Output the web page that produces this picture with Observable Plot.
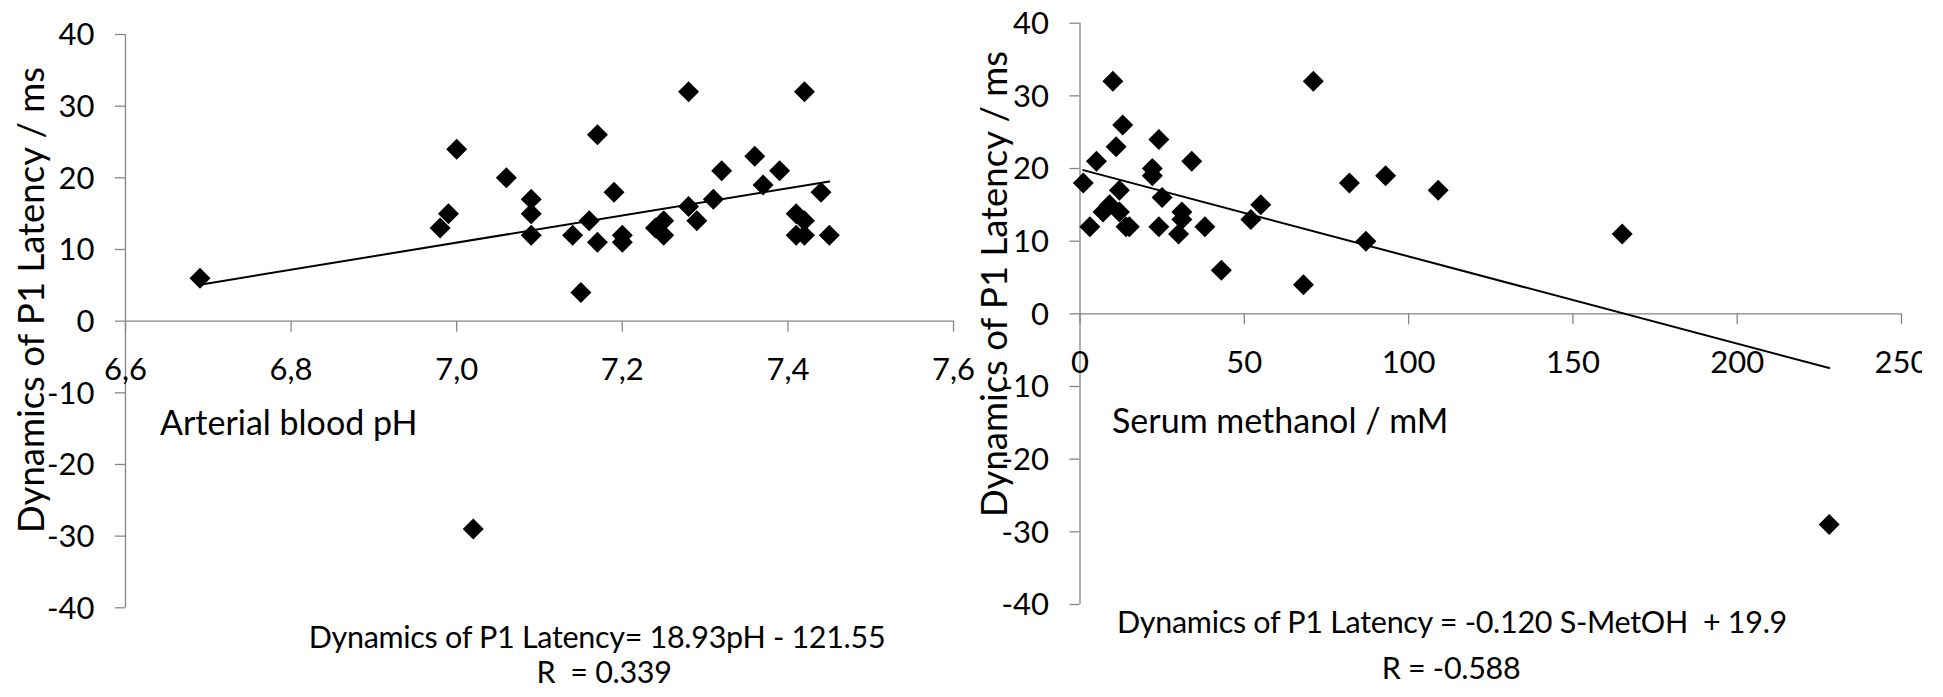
<!DOCTYPE html>
<html><head><meta charset="utf-8">
<script src="https://cdn.jsdelivr.net/npm/d3@7"></script>
<script src="https://cdn.jsdelivr.net/npm/@observablehq/plot@0.6"></script>
<style>
html,body{margin:0;padding:0;background:#fff;}
#root{position:relative;width:1943px;height:697px;overflow:hidden;font-family:Lato,"Open Sans",sans-serif;color:#000;background:#fff;}
.panel{position:absolute;top:0;height:697px;}
.lbl{position:absolute;white-space:pre;line-height:1;font-family:Lato,"Open Sans",sans-serif;color:#000;}
</style></head><body><div id="root"></div>
<script>
// ---- data ----
const phValues   = [6.69, 6.98, 6.99, 7.00, 7.06, 7.09, 7.09, 7.09, 7.14, 7.15, 7.16, 7.17, 7.17, 7.19, 7.20, 7.20, 7.24, 7.25, 7.25, 7.28, 7.28, 7.29, 7.31, 7.32, 7.36, 7.37, 7.39, 7.41, 7.41, 7.42, 7.42, 7.42, 7.44, 7.45, 7.02];
const phLatency  = [6, 13, 15, 24, 20, 17, 15, 12, 12, 4, 14, 26, 11, 18, 12, 11, 13, 14, 12, 32, 16, 14, 17, 21, 23, 19, 21, 15, 12, 32, 14, 12, 18, 12, -29];
const metValues  = [1, 3, 5, 7, 10, 9, 11, 13, 12, 12, 14, 15, 22, 22, 24, 25, 24, 30, 31, 31, 34, 38, 43, 52, 55, 68, 71, 82, 87, 93, 109, 165, 228];
const metLatency = [18, 12, 21, 14, 32, 15, 23, 26, 17, 14, 12, 12, 20, 19, 24, 16, 12, 11, 14, 13, 21, 12, 6, 13, 15, 4, 32, 18, 10, 19, 17, 11, -29];
const phTicks = [6.6, 6.8, 7.0, 7.2, 7.4, 7.6];
const phTickLabels = ["6,6", "6,8", "7,0", "7,2", "7,4", "7,6"];
const metTicks = [0, 50, 100, 150, 200, 250];
const metTickLabels = ["0", "50", "100", "150", "200", "250"];
const yTicks = [-40, -30, -20, -10, 0, 10, 20, 30, 40];
const fitPh = [18.93, -121.55];   // slope, intercept
const fitMet = [-0.120, 19.9];
const yTitle = "Dynamics of P1 Latency / ms";
const phTitle = "Arterial blood pH";
const metTitle = "Serum methanol / mM";
const phEq = ["Dynamics of P1 Latency= 18.93pH - 121.55", "R  = 0.339"];
const metEq = ["Dynamics of P1 Latency = -0.120 S-MetOH  + 19.9", "R = -0.588"];

// ---- drawing ----
const GRAY = "#868686";
const FONT = "Lato, 'Open Sans', sans-serif";
const diamond = {draw(ctx, size) { const h = Math.sqrt(size / Math.PI); ctx.moveTo(0, -h); ctx.lineTo(h, 0); ctx.lineTo(0, h); ctx.lineTo(-h, 0); ctx.closePath(); }};

function panel({xs, ys, xTicks, xLabels, fit, width, marginLeft, marginRight, marginTop, marginBottom}) {
  const pts = xs.map((x, i) => ({x, y: ys[i]}));
  const xDomain = [xTicks[0], xTicks[xTicks.length - 1]];
  const ext = d3.extent(xs);
  const line = ext.map(x => ({x, y: fit[0] * x + fit[1]}));
  return Plot.plot({
    width, height: 697, marginLeft, marginRight, marginTop, marginBottom,
    x: {domain: xDomain, axis: null},
    y: {domain: [-40, 40], axis: null},
    style: {fontFamily: FONT, color: "black", background: "transparent", maxWidth: "none", overflow: "visible"},
    marks: [
      Plot.ruleX([xDomain[0]], {x: d => d, y1: -40, y2: 40, stroke: GRAY, strokeWidth: 1.3}),
      Plot.ruleY(yTicks, {y: d => d, x1: xDomain[0], x2: xDomain[0], insetLeft: -10, stroke: GRAY, strokeWidth: 1.3}),
      Plot.ruleY([0], {y: d => d, x1: xDomain[0], x2: xDomain[1], stroke: GRAY, strokeWidth: 1.3}),
      Plot.ruleX(xTicks, {x: d => d, y1: 0, y2: 0, insetBottom: -11, stroke: GRAY, strokeWidth: 1.3}),
      Plot.text(yTicks, {x: xDomain[0], y: d => d, text: d => String(d), textAnchor: "end", dx: -31, dy: 1, fontSize: 31}),
      Plot.text(xTicks, {x: d => d, y: 0, text: (d, i) => xLabels[i], dy: 49, fontSize: 31}),
      Plot.line(line, {x: "x", y: "y", stroke: "black", strokeWidth: 2}),
      Plot.dot(pts, {x: "x", y: "y", symbol: diamond, r: 10.5, fill: "black", stroke: "none"})
    ]
  });
}

const root = document.getElementById("root");
function addPanel(left, w, svg, clip) {
  const d = document.createElement("div");
  d.className = "panel"; d.style.left = left + "px"; d.style.width = w + "px";
  if (clip) d.style.overflow = "hidden";
  d.appendChild(svg); root.appendChild(d);
}
addPanel(0, 975, panel({xs: phValues, ys: phLatency, xTicks: phTicks, xLabels: phTickLabels, fit: fitPh,
  width: 975, marginLeft: 125, marginRight: 22, marginTop: 34, marginBottom: 89.7}), false);
addPanel(960, 962, panel({xs: metValues, ys: metLatency, xTicks: metTicks, xLabels: metTickLabels, fit: fitMet,
  width: 983, marginLeft: 119.5, marginRight: 42, marginTop: 22.7, marginBottom: 93}), true);

function label(text, x, baseline, fs, anchor, ls) {
  const d = document.createElement("div");
  d.className = "lbl"; d.textContent = text; d.style.fontSize = fs + "px";
  if (ls) d.style.letterSpacing = ls + "px";
  d.style.left = x + "px"; d.style.top = (baseline - 0.887 * fs) + "px";
  if (anchor === "middle") d.style.transform = "translateX(-50%)";
  root.appendChild(d);
}
function vlabel(text, cx, cy, fs) {
  const d = document.createElement("div");
  d.className = "lbl"; d.textContent = text; d.style.fontSize = fs + "px";
  d.style.left = cx + "px"; d.style.top = cy + "px";
  d.style.transform = "translate(-50%,-50%) rotate(-90deg)";
  root.appendChild(d);
}
vlabel(yTitle, 30, 300, 36.5);
vlabel(yTitle, 993, 284, 36.5);
label(phTitle, 160, 435, 34);
label(metTitle, 1112, 433, 34);
label(phEq[0], 597, 648, 30.5, "middle", -0.3);
label(phEq[1], 604, 683, 30.5, "middle", -0.3);
label(metEq[0], 1452, 633, 30.5, "middle", -0.3);
label(metEq[1], 1451, 679, 30.5, "middle", -0.3);
</script></body></html>
